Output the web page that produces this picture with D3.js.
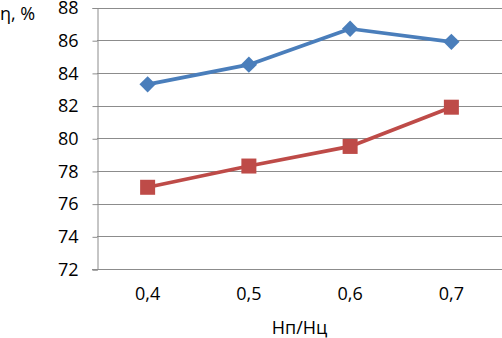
<!DOCTYPE html>
<html>
<head>
<meta charset="utf-8">
<script src="https://cdn.jsdelivr.net/npm/d3@7"></script>
<style>
  body { margin: 0; background: #fff; }
  text { font-family: "Open Sans", sans-serif; fill: #000; }
</style>
</head>
<body>
<script>
// data
var categories = ["0,4", "0,5", "0,6", "0,7"];
var seriesBlue = [83.3, 84.5, 86.7, 85.9];
var seriesRed = [77.0, 78.3, 79.5, 81.9];
var yTicks = [72, 74, 76, 78, 80, 82, 84, 86, 88];

var w = 502;
var h = 338;
var plotLeft = 97, plotRight = 502, plotTop = 7.5, plotBottom = 269;

var svg = d3.select("body")
    .append("svg")
    .attr("width", w)
    .attr("height", h);

// scales
var xScale = d3.scaleBand()
    .domain(categories)
    .range([plotLeft, plotRight]);

var yScale = d3.scaleLinear()
    .domain([72, 88])
    .range([plotBottom, plotTop]);

// gridlines
svg.selectAll("line.grid")
    .data(yTicks.slice(1))
    .enter()
    .append("line")
    .attr("x1", plotLeft)
    .attr("x2", w)
    .attr("y1", function(d) { return Math.round(yScale(d)) + 0.5; })
    .attr("y2", function(d) { return Math.round(yScale(d)) + 0.5; })
    .attr("stroke", "#8c8c8c")
    .attr("stroke-width", 1);

// y axis
var yAxis = d3.axisLeft(yScale)
    .tickValues(yTicks)
    .tickSize(5)
    .tickPadding(14);

var gy = svg.append("g")
    .attr("transform", "translate(" + (plotLeft + 0.5) + ",0.5)")
    .call(yAxis);
gy.select(".domain").attr("stroke", "#8c8c8c");
gy.selectAll(".tick line").attr("stroke", "#8c8c8c");
gy.selectAll(".tick text")
    .style("font-size", "18px")
    .style("font-family", "'Open Sans', sans-serif")
    .attr("fill", "#000");

// x axis
var xAxis = d3.axisBottom(xScale)
    .tickSize(0)
    .tickPadding(18);

var gx = svg.append("g")
    .attr("transform", "translate(0," + (plotBottom + 0.5) + ")")
    .call(xAxis);
gx.select(".domain").attr("stroke", "#8c8c8c").attr("d", "M" + (plotLeft - 5) + ",0H" + w);
gx.selectAll(".tick text")
    .style("font-size", "18px")
    .style("font-family", "'Open Sans', sans-serif")
    .attr("fill", "#000");

// lines
var line = d3.line()
    .x(function(d, i) { return xScale(categories[i]) + xScale.bandwidth() / 2; })
    .y(function(d) { return yScale(d); });

svg.append("path")
    .datum(seriesBlue)
    .attr("d", line)
    .attr("fill", "none")
    .attr("stroke", "#4a7ebb")
    .attr("stroke-width", 3.75)
    .attr("stroke-linejoin", "round");

svg.append("path")
    .datum(seriesRed)
    .attr("d", line)
    .attr("fill", "none")
    .attr("stroke", "#be4b48")
    .attr("stroke-width", 3.75)
    .attr("stroke-linejoin", "round");

// markers
svg.selectAll("path.diamond")
    .data(seriesBlue)
    .enter()
    .append("path")
    .attr("d", d3.symbol().type(d3.symbolDiamond2).size(170))
    .attr("transform", function(d, i) {
        return "translate(" + (xScale(categories[i]) + xScale.bandwidth() / 2) + "," + yScale(d) + ")";
    })
    .attr("fill", "#4a7ebb");

svg.selectAll("rect.square")
    .data(seriesRed)
    .enter()
    .append("rect")
    .attr("x", function(d, i) { return xScale(categories[i]) + xScale.bandwidth() / 2 - 7.5; })
    .attr("y", function(d) { return yScale(d) - 7.5; })
    .attr("width", 15)
    .attr("height", 15)
    .attr("fill", "#be4b48");

// titles
svg.append("text")
    .attr("x", 0)
    .attr("y", 20)
    .style("font-size", "18px")
    .text("η, %");

svg.append("text")
    .attr("x", (plotLeft + plotRight) / 2)
    .attr("y", 334)
    .attr("text-anchor", "middle")
    .style("font-size", "18px")
    .text("Нп/Нц");
</script>
</body>
</html>
